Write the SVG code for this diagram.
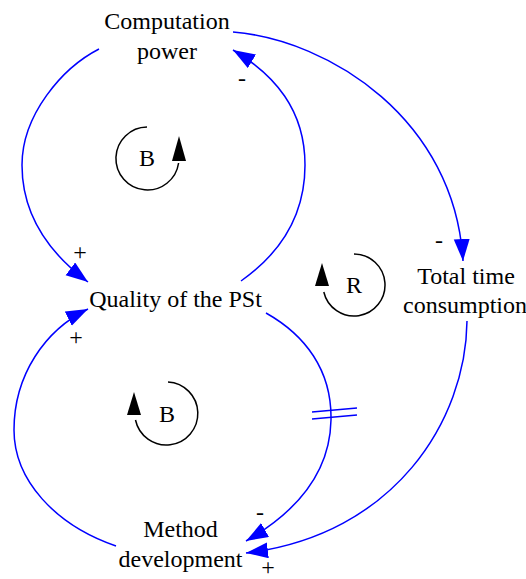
<svg xmlns="http://www.w3.org/2000/svg" width="526" height="579" viewBox="0 0 526 579">
<defs>
<style>
.lbl{font-family:'Liberation Serif','Times New Roman',Times,serif;font-size:24px;fill:#000;text-anchor:middle}
.edge{fill:none;stroke:#0000ff;stroke-width:1.5}
.loop{fill:none;stroke:#000;stroke-width:1.5}
.head{fill:#000}
</style>
<marker id="arr" markerUnits="userSpaceOnUse" markerWidth="24" markerHeight="18" refX="22" refY="8" orient="auto">
<path d="M0,0 L22,8 L0,16 Z" fill="#0000ff"/>
</marker>
</defs>
<rect width="526" height="579" fill="#fff"/>
<g id="connectors" font-family="Liberation Serif, serif">
<path class="edge" d="M99,49 C62,68 22,115 22,165 C22,210 45,250 88,282" marker-end="url(#arr)"/>
<path class="edge" d="M241,281 C285,250 305,210 305,165 C305,110 275,75 233,50" marker-end="url(#arr)"/>
<path class="edge" d="M233,32 C330,40 455,120 463,261" marker-end="url(#arr)"/>
<path class="edge" d="M467,321 C466,420 395,535 246,553" marker-end="url(#arr)"/>
<path class="edge" d="M266,313 C305,335 332,370 331,420 C330,470 300,510 246,541" marker-end="url(#arr)"/>
<path class="edge" d="M116,546 C55,525 14,480 14,430 C14,375 45,330 88,309" marker-end="url(#arr)"/>
<path class="edge" d="M312,412 L357,408 M312,419 L357,415"/>
<text class="lbl" x="80" y="260">+</text>
<text class="lbl" x="242" y="86">-</text>
<text class="lbl" x="439" y="248">-</text>
<text class="lbl" x="268" y="575">+</text>
<text class="lbl" x="260" y="520">-</text>
<text class="lbl" x="76" y="345">+</text>
</g>
<g id="computation-power" font-family="Liberation Serif, serif">
<text class="lbl" x="167" y="29">Computation</text>
<text class="lbl" x="167" y="59">power</text>
</g>
<g id="quality" font-family="Liberation Serif, serif">
<text class="lbl" x="175.5" y="307">Quality of the PSt</text>
</g>
<g id="total-time" font-family="Liberation Serif, serif">
<text class="lbl" x="466" y="284">Total time</text>
<text class="lbl" x="465" y="313">consumption</text>
</g>
<g id="method-development" font-family="Liberation Serif, serif">
<text class="lbl" x="180.5" y="537">Method</text>
<text class="lbl" x="180.5" y="567">development</text>
</g>
<g id="loop-b1" font-family="Liberation Serif, serif">
<path class="loop" d="M147,127 A31.5,31.5 0 1 0 178.6,163"/>
<polygon class="head" points="179,136 172,161 186,161"/>
<text class="lbl" x="147" y="166">B</text>
</g>
<g id="loop-r" font-family="Liberation Serif, serif">
<path class="loop" d="M354,254 A31,31 0 1 1 323.8,292"/>
<polygon class="head" points="322,263 315,286 329,286"/>
<text class="lbl" x="354" y="293">R</text>
</g>
<g id="loop-b2" font-family="Liberation Serif, serif">
<path class="loop" d="M168,382 A31.5,31.5 0 1 1 135.5,420"/>
<polygon class="head" points="134,392 127,415 141,415"/>
<text class="lbl" x="167" y="422">B</text>
</g>
</svg>
